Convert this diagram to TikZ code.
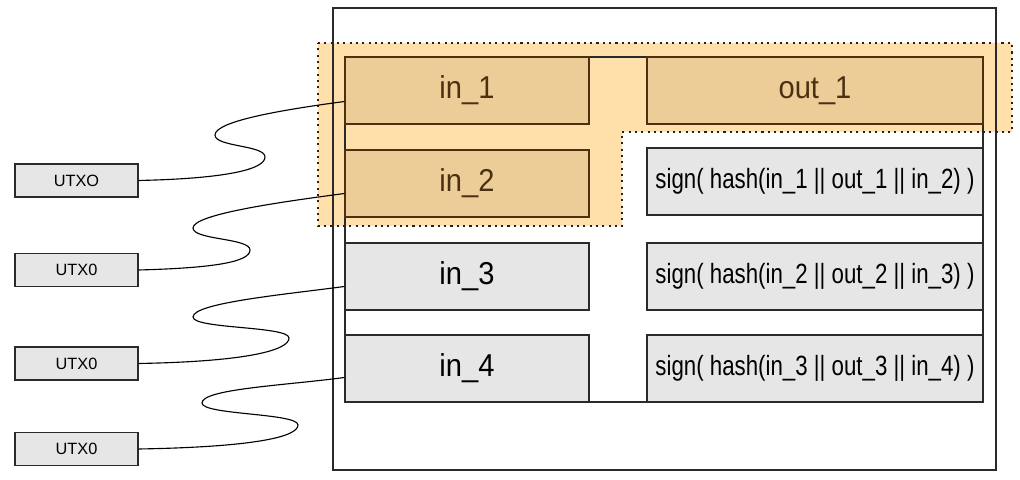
\documentclass[tikz,border=0pt]{standalone}
\usepackage{fontspec}
\setmainfont{Liberation Sans}
\newfontfamily\narrowfont{Liberation Sans}[FakeStretch=0.8]
\newfontfamily\infont{Liberation Sans}[FakeStretch=0.92]
\usetikzlibrary{calc}
\definecolor{boxgray}{HTML}{E6E6E6}
\definecolor{linegray}{HTML}{2A2A2A}
\definecolor{hlfill}{HTML}{FFE0AA}
\definecolor{hlboxfill}{HTML}{ECCD98}
\definecolor{hltext}{HTML}{4B3012}
\definecolor{hlborder}{HTML}{2E2010}

\begin{document}
\begin{tikzpicture}[x=0.025cm, y=0.025cm,
    txbox/.style={draw=linegray, line width=0.8pt, fill=boxgray, inner sep=0pt,
      minimum width=6.1cm, minimum height=1.675cm, font=\infont\fontsize{22.5}{26}\selectfont},
    sigbox/.style={txbox, minimum width=8.4cm, font=\narrowfont\fontsize{19.8}{23}\selectfont},
    hl/.style={fill=hlboxfill, draw=hltext, text=hltext},
    utxo/.style={draw=linegray, line width=0.8pt, fill=boxgray, inner sep=0pt,
      minimum width=3.075cm, minimum height=0.825cm, font=\fontsize{11.6}{13}\selectfont},
    wire/.style={line width=0.8pt}]
      \useasboundingbox (0,0) rectangle (1020,480);

      % highlighted group
      \fill[hlfill] (318,437) -- (1012,437) -- (1012,348) -- (622,348) -- (622,254) -- (318,254) -- cycle;

      % transaction frame
      \draw[wire, draw=linegray] (333,472) rectangle (996,10);
      \draw[wire, draw=linegray] (345,423) rectangle (983,78);

      \node[txbox, hl] (in1) at (467,389.5) {in\_1};
      \node[sigbox, hl, font=\infont\fontsize{22.5}{26}\selectfont] (out1) at (815,389.5) {out\_1};
      \node[txbox, hl] (in2) at (467,296.5) {in\_2};
      \node[sigbox] (sig1) at (815,298.5) {sign( hash(in\_1 || out\_1 || in\_2) )};
      \node[txbox] (in3) at (467,203.5) {in\_3};
      \node[sigbox] (sig2) at (815,203.5) {sign( hash(in\_2 || out\_2 || in\_3) )};
      \node[txbox] (in4) at (467,111.5) {in\_4};
      \node[sigbox] (sig3) at (815,111.5) {sign( hash(in\_3 || out\_3 || in\_4) )};

      \draw[line width=1.5pt, dash pattern=on 1.5pt off 3pt, draw=hlborder]
        (318,437) -- (1012,437) -- (1012,348) -- (622,348) -- (622,254) -- (318,254) -- cycle;

      % outputs being spent
      \node[utxo] (u1) at (76.5,299.5) {UTXO};
      \node[utxo] (u2) at (76.5,210) {UTX0};
      \node[utxo] (u3) at (76.5,116.5) {UTX0};
      \node[utxo] (u4) at (76.5,31) {UTX0};

      \draw[wire] (u1.east) .. controls +(90,2) and +(0,-12) .. (265,323)
        .. controls +(0,12) and +(0,-12) .. (215,345)
        .. controls +(0,14) and +(-60,-8) .. ($(in1.west)+(0,-11)$);
      \draw[wire] (u2.east) .. controls +(75,2) and +(0,-12) .. (250,230)
        .. controls +(0,12) and +(0,-12) .. (193,252)
        .. controls +(0,14) and +(-60,-8) .. ($(in2.west)+(0,-10)$);
      \draw[wire] (u3.east) .. controls +(110,2) and +(0,-12) .. (289,142)
        .. controls +(0,12) and +(0,-12) .. (193,163)
        .. controls +(0,14) and +(-60,-8) .. ($(in3.west)+(0,-10)$);
      \draw[wire] (u4.east) .. controls +(115,2) and +(0,-12) .. (298,55)
        .. controls +(0,12) and +(0,-12) .. (202,77)
        .. controls +(0,14) and +(-60,-8) .. ($(in4.west)+(0,-9)$);
    \end{tikzpicture}
\end{document}
